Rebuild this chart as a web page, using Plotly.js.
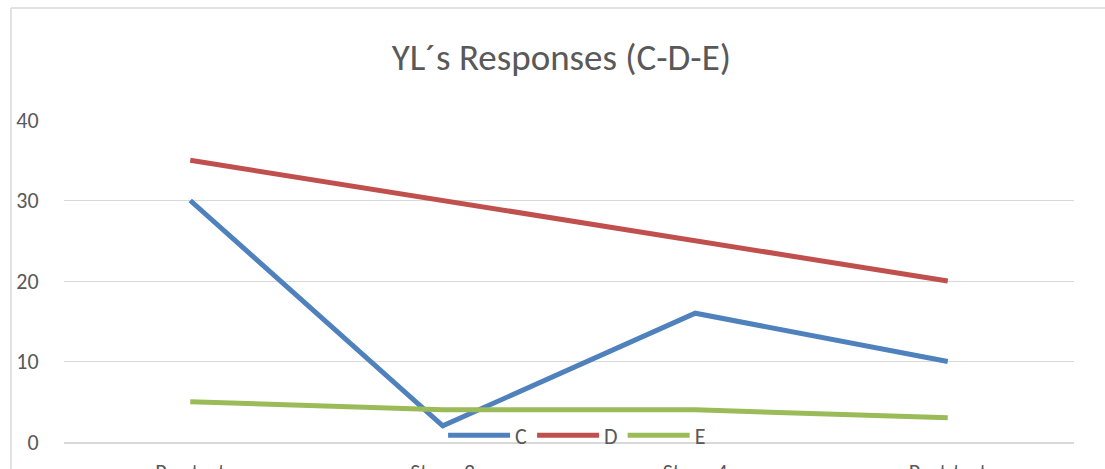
<!DOCTYPE html>
<html>
<head>
<meta charset="utf-8">
<script src="https://cdn.plot.ly/plotly-3.0.1.min.js"></script>
<style>html,body{margin:0;padding:0;background:#fff;}#chart{width:1105px;height:469px;}</style>
</head>
<body>
<div id="chart"></div>
<script>
const categories = ["Pre-test", "Stage 2", "Stage 4", "Post-test"];
const seriesC = [30, 2, 16, 10];
const seriesD = [35, 30, 25, 20];
const seriesE = [5, 4, 4, 3];
const yTicks = [0, 10, 20, 30, 40];

const font = "Carlito, Calibri, 'Open Sans', 'Noto Sans', sans-serif";
const mk = (name, y, color) => ({
  x: categories, y: y, name: name, type: "scatter", mode: "lines",
  line: {color: color, width: 5}
});
const data = [
  mk("C", seriesC, "#4F81BD"),
  mk("D", seriesD, "#C0504D"),
  mk("E", seriesE, "#9BBB59")
];
const layout = {
  width: 1105, height: 469,
  margin: {l: 64, r: 31, t: 120, b: 27},
  paper_bgcolor: "#fff", plot_bgcolor: "#fff",
  font: {family: font, color: "#595959", size: 22},
  title: {text: "YL\u00B4s Responses (C-D-E)", font: {size: 37, color: "#595959", family: font},
          x: 0.508, xanchor: "center", y: 0.879, yanchor: "middle"},
  showlegend: true,
  legend: {orientation: "h", x: 0.508, xanchor: "center", y: -0.045, yanchor: "bottom",
           bgcolor: "rgba(0,0,0,0)", font: {size: 22, color: "#595959"},
           itemwidth: 62, tracegroupgap: 0, itemclick: false},
  xaxis: {type: "category", range: [-0.5, 3.5], showgrid: false, zeroline: false,
          showline: true, linecolor: "#D9D9D9", linewidth: 2,
          ticks: "outside", ticklen: 10, tickcolor: "rgba(0,0,0,0)",
          tickfont: {size: 22, color: "#595959"}, fixedrange: true},
  yaxis: {range: [0, 40], tickvals: yTicks, ticktext: yTicks.map(String),
          showgrid: true, gridcolor: "#D9D9D9", gridwidth: 1, zeroline: false,
          showline: false, ticks: "outside", ticklen: 20, tickcolor: "rgba(0,0,0,0)",
          tickfont: {size: 22, color: "#595959"}, fixedrange: true},
  shapes: [
    {type: "line", xref: "paper", yref: "paper", x0: -0.0525, x1: 1.04, y0: 1.348, y1: 1.348,
     line: {color: "#D9D9D9", width: 1.5}},
    {type: "line", xref: "paper", yref: "paper", x0: -0.0525, x1: -0.0525, y0: 1.348, y1: -0.1,
     line: {color: "#D9D9D9", width: 1.5}}
  ]
};
Plotly.newPlot("chart", data, layout, {displayModeBar: false, staticPlot: true});
</script>
</body>
</html>
